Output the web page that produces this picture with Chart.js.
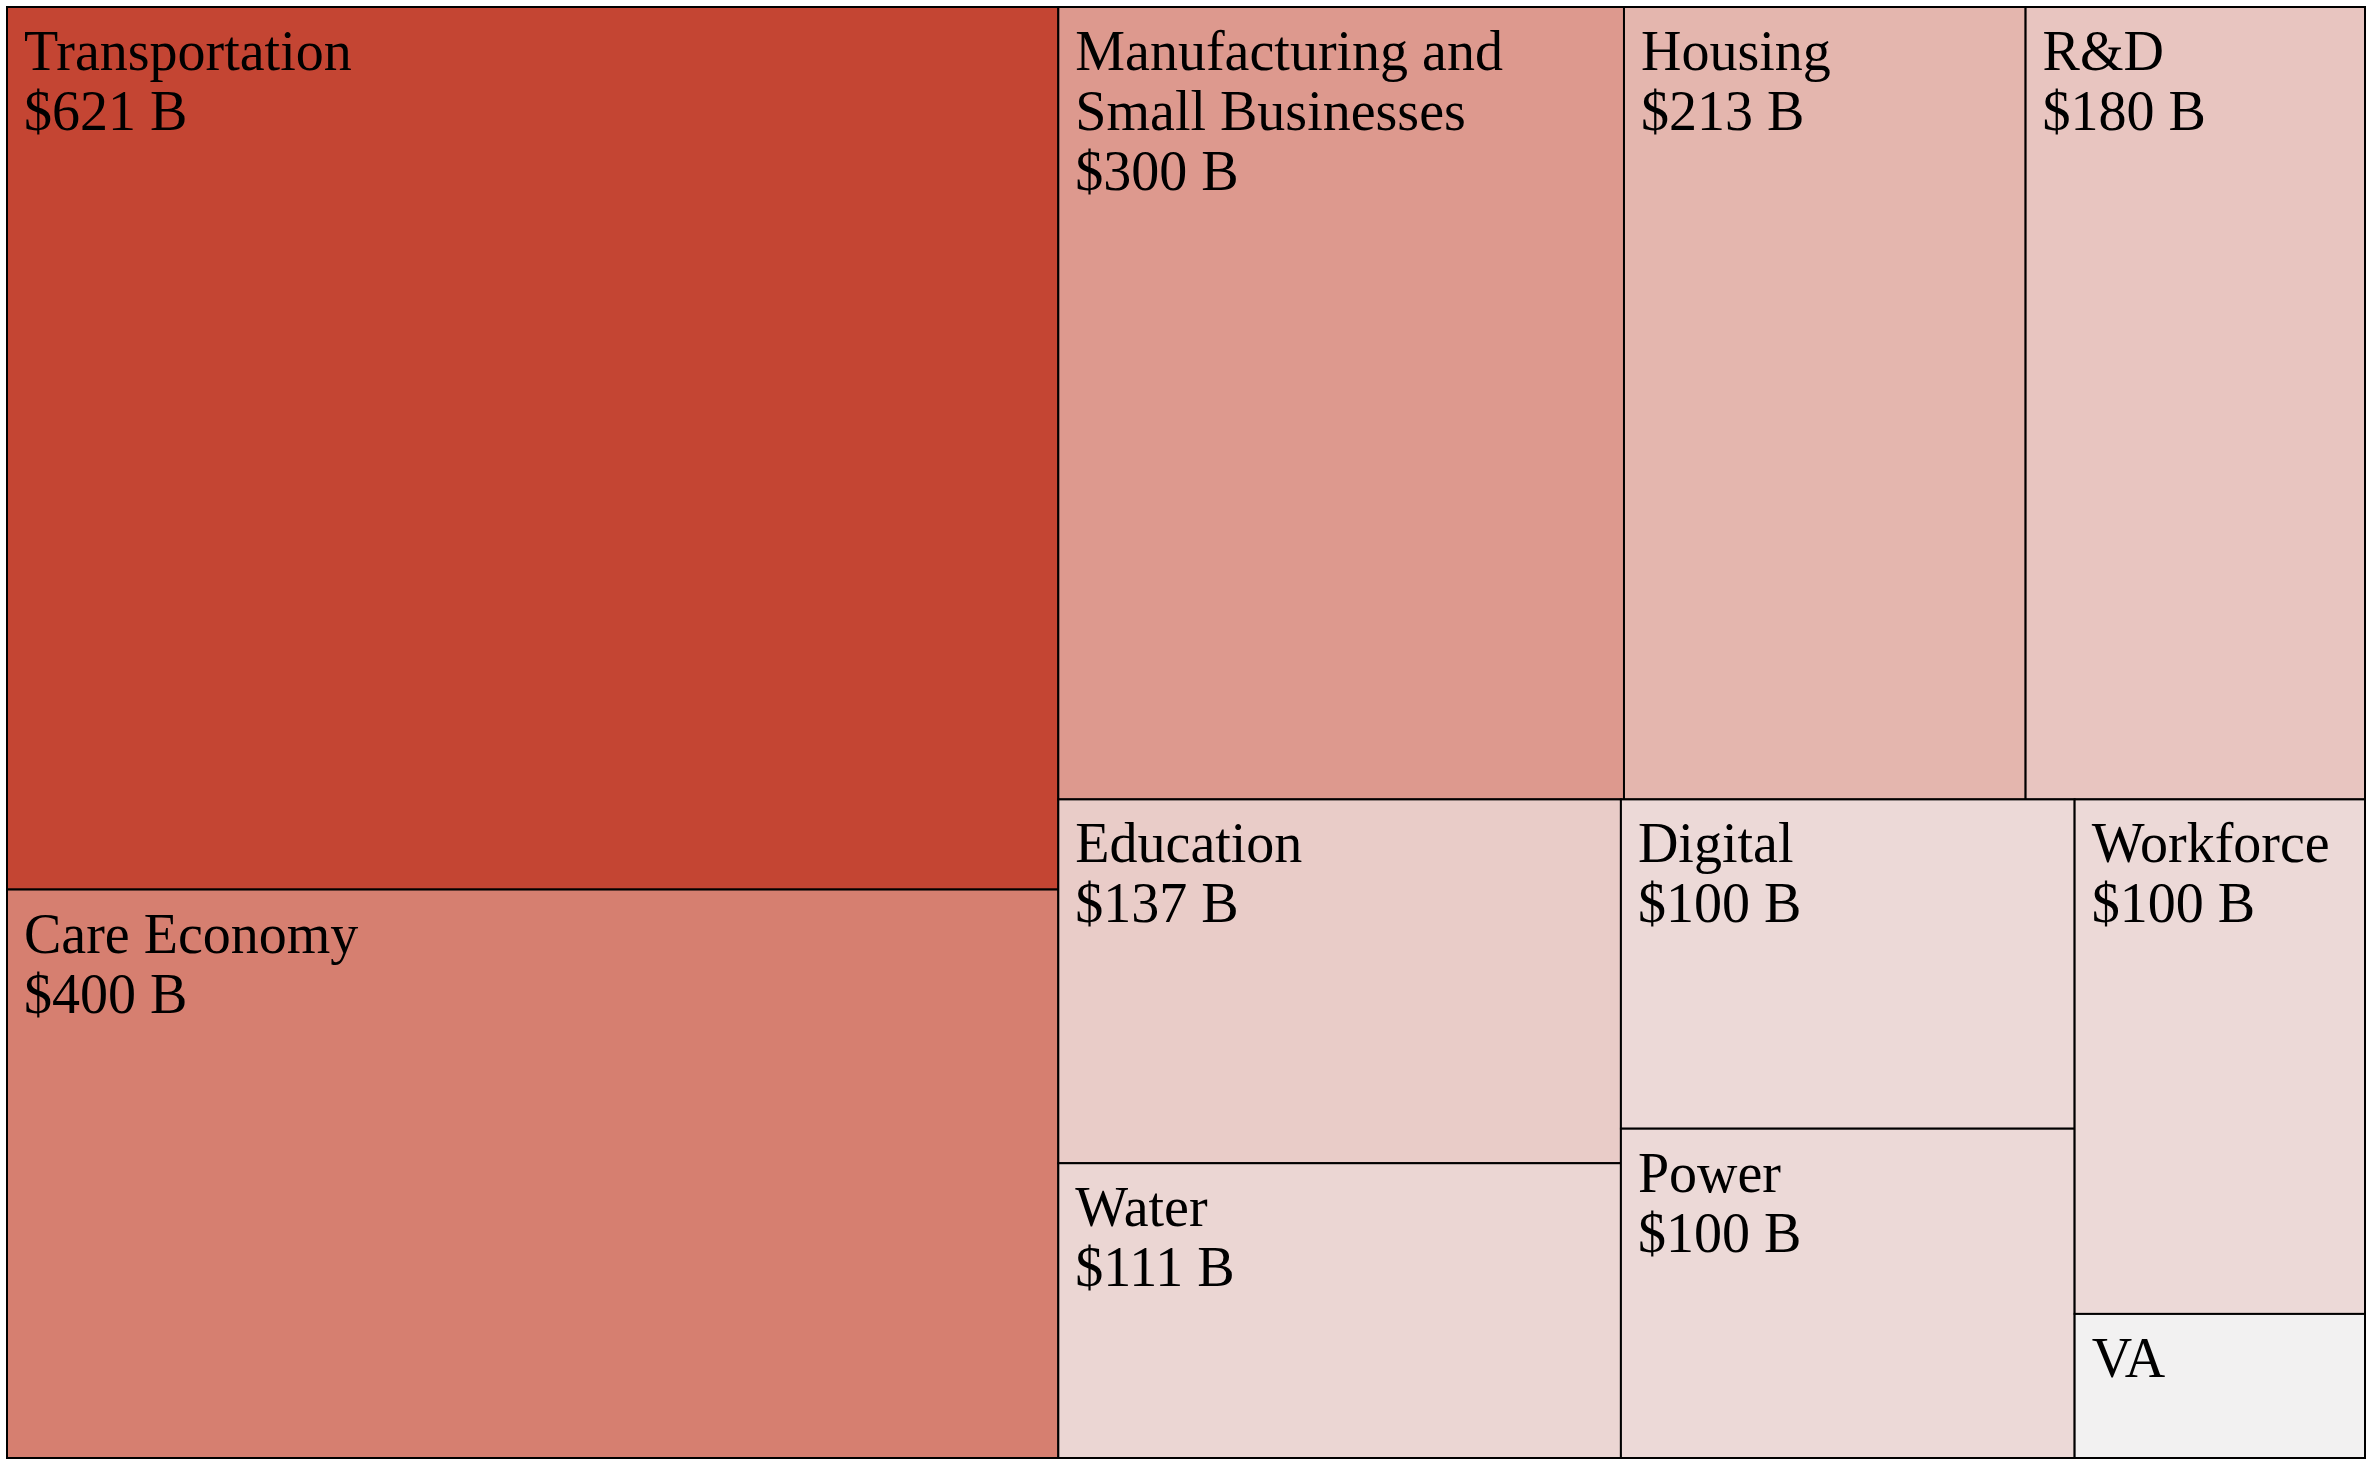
<!DOCTYPE html>
<html>
<head>
<meta charset="utf-8">
<script src="https://cdn.jsdelivr.net/npm/chart.js@4.4.1/dist/chart.umd.min.js"></script>
<style>
  html, body { margin: 0; padding: 0; background: #fff; }
  #wrap { width: 2374px; height: 1466px; position: relative; }
</style>
</head>
<body>
<div id="wrap"><canvas id="tm"></canvas></div>
<script>
// ─── data (billions USD) ──────────────────────────────────────────────────────
const categories = ['Transportation', 'Care Economy', 'Manufacturing and Small Businesses', 'Housing',
                    'R&D', 'Education', 'Water', 'Digital', 'Power', 'Workforce', 'VA'];
const values     = [621, 400, 300, 213, 180, 137, 111, 100, 100, 100, 28];
const cellColors = ['#c44533', '#d67f70', '#dd998e', '#e4b6ae', '#e8c5c0', '#e9ccc8',
                    '#ebd6d3', '#ecd9d7', '#ecd9d7', '#ecd9d7', '#f2f1f1'];

const TM_FONT = '56px "Liberation Serif", "Times New Roman", serif';
const PHI = (1 + Math.sqrt(5)) / 2;

// squarified layout (d3-style, golden ratio), in pixel units of the plot area
function squarify(vals, W, H) {
  const out = new Array(vals.length);
  let x0 = 0, y0 = 0, x1 = W, y1 = H;
  let value = vals.reduce((a, b) => a + b, 0);
  let i0 = 0, i1 = 0;
  const n = vals.length;
  while (i0 < n) {
    const dx = x1 - x0, dy = y1 - y0;
    let sum = vals[i1++], minV = sum, maxV = sum;
    const alpha = Math.max(dy / dx, dx / dy) / (value * PHI);
    let beta = sum * sum * alpha;
    let minRatio = Math.max(maxV / beta, beta / minV);
    for (; i1 < n; ++i1) {
      const v = vals[i1];
      sum += v;
      if (v < minV) minV = v;
      if (v > maxV) maxV = v;
      beta = sum * sum * alpha;
      const r = Math.max(maxV / beta, beta / minV);
      if (r > minRatio) { sum -= v; break; }
      minRatio = r;
    }
    const dice = dx < dy;
    if (dice) {
      const ny = y0 + dy * sum / value;
      let cx = x0;
      for (let k = i0; k < i1; k++) {
        const w = dx * vals[k] / sum;
        out[k] = { x0: cx, y0: y0, x1: cx + w, y1: ny };
        cx += w;
      }
      y0 = ny;
    } else {
      const nx = x0 + dx * sum / value;
      let cy = y0;
      for (let k = i0; k < i1; k++) {
        const h = dy * vals[k] / sum;
        out[k] = { x0: x0, y0: cy, x1: nx, y1: cy + h };
        cy += h;
      }
      x0 = nx;
    }
    value -= sum;
    i0 = i1;
  }
  return out.map(r => ({ x0: r.x0 / W, y0: r.y0 / H, x1: r.x1 / W, y1: r.y1 / H }));
}

function wrapText(ctx, text, maxW) {
  const words = text.split(' ');
  const lines = [];
  let cur = '';
  words.forEach(w => {
    const t = cur ? cur + ' ' + w : w;
    if (cur && ctx.measureText(t).width > maxW) { lines.push(cur); cur = w; }
    else cur = t;
  });
  if (cur) lines.push(cur);
  return lines;
}

const treemapCells = {
  id: 'treemapCells',
  afterDatasetsDraw(chart) {
    const { ctx, chartArea: a, scales: { x, y } } = chart;
    const rects = squarify(values, a.right - a.left, a.bottom - a.top);
    ctx.save();
    rects.forEach((r, i) => {
      const L = x.getPixelForValue(r.x0), R = x.getPixelForValue(r.x1);
      const T = y.getPixelForValue(r.y0), B = y.getPixelForValue(r.y1);
      ctx.fillStyle = cellColors[i];
      ctx.fillRect(L, T, R - L, B - T);
      ctx.lineWidth = 2;
      ctx.strokeStyle = '#000';
      ctx.strokeRect(L, T, R - L, B - T);

      // labels
      ctx.save();
      ctx.beginPath();
      ctx.rect(L, T, R - L, B - T);
      ctx.clip();
      ctx.font = TM_FONT;
      ctx.fillStyle = '#000';
      ctx.textBaseline = 'alphabetic';
      const lines = wrapText(ctx, categories[i], R - L - 34);
      lines.push('$' + values[i] + ' B');
      lines.forEach((ln, k) => {
        const base = T + 63 + k * 60;
        if (k > 0 && base + 30 > B) return;
        ctx.fillText(ln, L + 17, base);
      });
      ctx.restore();
    });
    ctx.restore();
  }
};

new Chart(document.getElementById('tm'), {
  type: 'scatter',
  data: { datasets: [{ data: [] }] },
  options: {
    responsive: true, maintainAspectRatio: false, animation: false,
    layout: { padding: { left: 7, top: 7, right: 9, bottom: 8 } },
    plugins: { legend: { display: false }, tooltip: { enabled: false } },
    scales: {
      x: { type: 'linear', min: 0, max: 1, display: false },
      y: { type: 'linear', min: 0, max: 1, reverse: true, display: false },
    },
  },
  plugins: [treemapCells],
});
</script>
</body>
</html>
